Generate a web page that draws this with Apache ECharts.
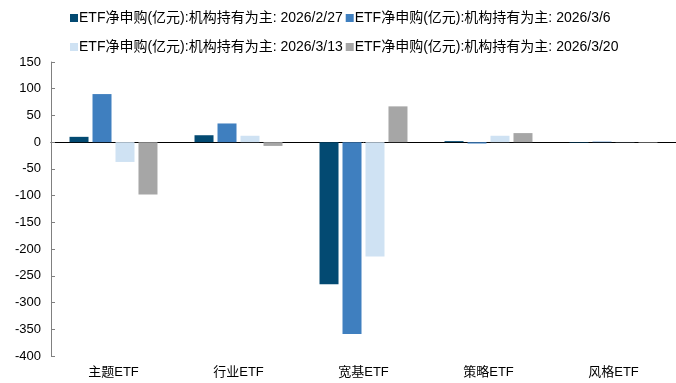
<!DOCTYPE html>
<html><head><meta charset="utf-8">
<script src="https://cdn.jsdelivr.net/npm/echarts@6/dist/echarts.min.js"></script>
<style>html,body{margin:0;padding:0;background:#fff}#c{width:676px;height:383px}</style>
</head><body><div id="c"></div>
<script>
const categories = ['主题ETF','行业ETF','宽基ETF','策略ETF','风格ETF'];
const seriesNames = [
  'ETF净申购(亿元):机构持有为主: 2026/2/27',
  'ETF净申购(亿元):机构持有为主: 2026/3/6',
  'ETF净申购(亿元):机构持有为主: 2026/3/13',
  'ETF净申购(亿元):机构持有为主: 2026/3/20'
];
const s0227 = [10, 13, -266, 2, -1];
const s0306 = [90, 35, -359, -2.5, 1];
const s0313 = [-37, 12, -214, 12, 0.5];
const s0320 = [-98, -7, 67, 17, -1];
const yTicks = {min: -400, max: 150, interval: 50};
const colors = ['#034A72','#3F7FBF','#CFE2F3','#A6A6A6'];
const allData = [s0227, s0306, s0313, s0320];

const font = 'Arial, "Liberation Sans", "Noto Sans CJK SC", sans-serif';
const legendText = {fontSize: 14, color: '#000', fontFamily: font, padding: [0,0,0,-4]};
const chart = echarts.init(document.getElementById('c'));
chart.setOption({
  animation: false,
  textStyle: {fontFamily: font},
  legend: [
    {data: seriesNames.slice(0,2), left: 65, top: 6, itemWidth: 8, itemHeight: 8, itemGap: 3,
     textStyle: legendText, icon: 'rect'},
    {data: seriesNames.slice(2,4), left: 65, top: 35, itemWidth: 8, itemHeight: 8, itemGap: 3,
     textStyle: legendText, icon: 'rect'}
  ],
  grid: {left: 51, right: -1, top: 62, bottom: 27, containLabel: false},
  xAxis: [
    {type: 'category', data: categories, axisLine: {onZero: true, lineStyle: {color: '#000', width: 1}},
     axisTick: {inside: true, length: 4, lineStyle: {color: '#000'}}, axisLabel: {show: false}},
    {type: 'category', data: categories, position: 'bottom', axisLine: {show: false, onZero: false},
     axisTick: {show: false}, axisLabel: {fontSize: 13, color: '#000', margin: 10, fontFamily: font}}
  ],
  yAxis: {type: 'value', min: yTicks.min, max: yTicks.max, interval: yTicks.interval,
    axisLine: {show: true, lineStyle: {color: '#808080'}},
    axisTick: {show: true, inside: true, length: 4, lineStyle: {color: '#808080'}},
    splitLine: {show: false},
    axisLabel: {fontSize: 13, color: '#000', margin: 10, fontFamily: font}},
  series: allData.map((d, i) => ({
    name: seriesNames[i], type: 'bar', xAxisIndex: 0, data: d,
    barWidth: 19, barGap: '21%',
    itemStyle: {color: colors[i]}
  }))
});
</script></body></html>
